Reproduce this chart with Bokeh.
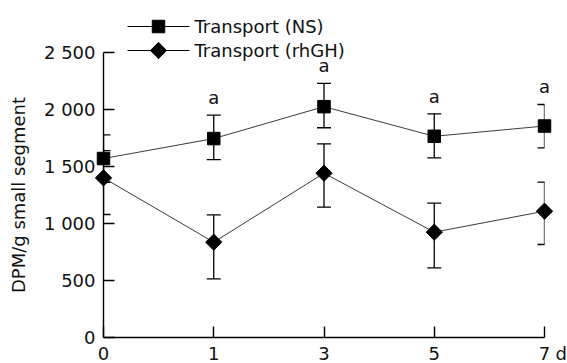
import numpy as np
from bokeh.plotting import figure
from bokeh.models import ColumnDataSource, Whisker, TeeHead, FixedTicker, Range1d
from bokeh.core.properties import value
from bokeh.embed import file_html
from bokeh.resources import INLINE

# ---- data ----
days = ["0", "1", "3", "5", "7"]
ns_mean = [1570, 1745, 2025, 1765, 1855]
ns_upper = [1777, 1950, 2230, 1962, 2044]
ns_lower = [1360, 1561, 1840, 1576, 1664]
gh_mean = [1400, 836, 1441, 924, 1108]
gh_upper = [1640, 1076, 1699, 1178, 1363]
gh_lower = [1079, 515, 1143, 611, 816]
sig_days = ["1", "3", "5", "7"]
series_names = ["Transport (NS)", "Transport (rhGH)"]
y_ticks = [0, 500, 1000, 1500, 2000, 2500]
y_tick_labels = ["0", "500", "1 000", "1 500", "2 000", "2 500"]
y_title = "DPM/g small segment"
x_unit = "d"

FONT = "DejaVu Sans"
FS = "18px"
TXT = "#111111"

W, H = 567, 363
LEFT, TOP_AXIS, RIGHT, BOTTOM = 103, 52, 544, 337   # pixel layout of the axes box
y_max = y_ticks[-1]
y_end = y_max * BOTTOM / (BOTTOM - TOP_AXIS)       # frame reaches the top of the canvas

xi = list(range(len(days)))
ns_src = ColumnDataSource(dict(x=xi, y=ns_mean, up=ns_upper, lo=ns_lower))
gh_src = ColumnDataSource(dict(x=xi, y=gh_mean, up=gh_upper, lo=gh_lower))

p = figure(width=W, height=H, output_backend="svg", toolbar_location=None,
           x_range=Range1d(0, len(days) - 1), y_range=Range1d(0, y_end),
           min_border_left=LEFT, min_border_right=W - RIGHT, min_border_top=0,
           min_border_bottom=H - BOTTOM)
p.outline_line_color = None
p.grid.grid_line_color = None


def px_to_x(px):
    return (px - LEFT) / (RIGHT - LEFT) * (len(days) - 1)


def px_to_y(py):
    return (BOTTOM - py) / BOTTOM * y_end


# lines
p.line("x", "y", source=ns_src, line_color="#3a3a3a", line_width=1)
p.line("x", "y", source=gh_src, line_color="#3a3a3a", line_width=1)

# error bars
for src in (ns_src, gh_src):
    w = Whisker(source=src, base="x", upper="up", lower="lo", line_color="black", line_width=1.3,
                upper_head=TeeHead(size=14, line_color="black", line_width=1.3),
                lower_head=TeeHead(size=14, line_color="black", line_width=1.3))
    w.level = "annotation"
    p.add_layout(w)

# markers
SQ = dict(marker="square", size=12.5, fill_color="black", line_color="black")
DI = dict(marker="square", angle=np.pi / 4, size=11.5, fill_color="black", line_color="black")
p.scatter("x", "y", source=ns_src, level="overlay", **SQ)
p.scatter("x", "y", source=gh_src, level="overlay", **DI)

# significance letters
sig_x = [days.index(d) for d in sig_days]
sig_y = [ns_upper[days.index(d)] for d in sig_days]
p.text(sig_x, sig_y, text=["a"] * len(sig_x), text_align="center", text_baseline="bottom",
       y_offset=-7, text_font=value(FONT), text_font_size=FS, text_color=TXT, level="overlay")

# axes
p.xaxis.ticker = FixedTicker(ticks=xi)
p.xaxis.major_label_overrides = {i: d for i, d in enumerate(days)}
p.yaxis.ticker = FixedTicker(ticks=y_ticks)
p.yaxis.major_label_overrides = {t: l for t, l in zip(y_ticks, y_tick_labels)}
p.yaxis.bounds = (0, y_max)
for ax in (p.xaxis[0], p.yaxis[0]):
    ax.axis_line_color = "black"
    ax.axis_line_width = 1.4
    ax.major_tick_line_color = "black"
    ax.major_tick_line_width = 1.4
    ax.major_tick_in = 11
    ax.major_tick_out = 0
    ax.minor_tick_line_color = None
    ax.major_label_text_font = FONT
    ax.major_label_text_font_size = FS
    ax.major_label_text_color = TXT
p.xaxis.major_label_standoff = 9
p.yaxis.major_label_standoff = 8

# y title, centred on the 0..2500 axis line
p.text(x=[px_to_x(17.5)], y=[y_max / 2], text=[y_title], angle=np.pi / 2,
       text_align="center", text_baseline="middle", text_font=value(FONT),
       text_font_size=FS, text_color=TXT, level="overlay")

# "d" unit after last x tick
p.text(x=[len(days) - 1], y=[0], text=[x_unit], x_offset=11, y_offset=5,
       text_align="left", text_baseline="top", text_font=value(FONT),
       text_font_size=FS, text_color=TXT, level="overlay")

# legend (key drawn in the free area above the axes, positioned in pixels)
leg_rows_py = [26, 50]
for name, style, py in zip(series_names, (SQ, DI), leg_rows_py):
    yy = px_to_y(py)
    p.segment(x0=[px_to_x(127)], y0=[yy], x1=[px_to_x(189)], y1=[yy],
              line_color="black", line_width=1.2, level="overlay")
    p.scatter(x=[px_to_x(158)], y=[yy], level="overlay", **style)
    p.text(x=[px_to_x(194)], y=[yy], text=[name], text_baseline="middle", text_align="left",
           text_font=value(FONT), text_font_size=FS, text_color=TXT, level="overlay")

open("out.html", "w").write(file_html(p, INLINE))
